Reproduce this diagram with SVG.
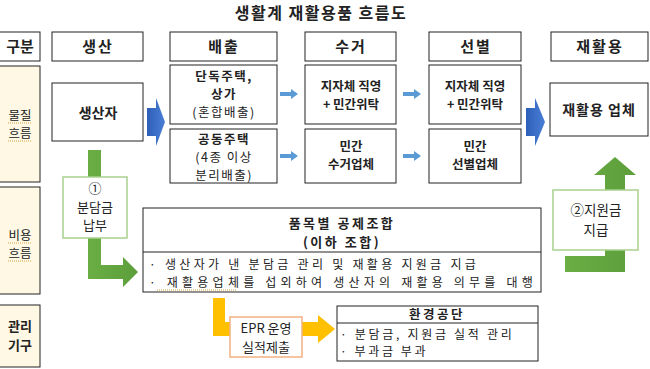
<svg xmlns="http://www.w3.org/2000/svg" width="650" height="369" viewBox="0 0 650 369">
<style>
text{font-family:"Noto Sans CJK KR","Noto Sans",sans-serif;fill:#222;text-anchor:middle}
.h{font-size:15px;font-weight:bold;letter-spacing:2px}
.b{font-size:12.5px;font-weight:bold}
.r{font-size:12.5px}
.l{text-anchor:start;font-size:12px;letter-spacing:3.2px}
.box{fill:#fff;stroke:#222;stroke-width:1}
.cat{fill:#FEF8E4;stroke:#222;stroke-width:1}
.sq{stroke:#D9A441;stroke-width:1;stroke-dasharray:1 1;fill:none}
.lb{fill:#5B9BD5}
</style>
<defs>
<linearGradient id="blue" x1="0" y1="0" x2="1" y2="0"><stop offset="0" stop-color="#2E5FB8"/><stop offset="1" stop-color="#4A7FD6"/></linearGradient>
<linearGradient id="green" x1="0" y1="0" x2="1" y2="0"><stop offset="0" stop-color="#6AAE45"/><stop offset="1" stop-color="#5C9E3A"/></linearGradient>
</defs>
<rect width="650" height="369" fill="#fff"/>
<text x="321" y="19" style="font-size:16px;font-weight:bold;letter-spacing:1.5px">생활계 재활용품 흐름도</text>

<g id="header">
<g id="h-gubun"><rect class="box" x="-1" y="32" width="41" height="29"/><text class="h" x="20" y="52" style="letter-spacing:0">구분</text></g>
<g id="h-prod"><rect class="box" x="52" y="32" width="91" height="29"/><text class="h" x="98" y="52">생산</text></g>
<g id="h-disch"><rect class="box" x="170" y="32" width="107" height="29"/><text class="h" x="224" y="52">배출</text></g>
<g id="h-coll"><rect class="box" x="305" y="32" width="91" height="29"/><text class="h" x="351" y="52">수거</text></g>
<g id="h-sort"><rect class="box" x="429" y="32" width="92" height="29"/><text class="h" x="476" y="52">선별</text></g>
<g id="h-recy"><rect class="box" x="551" y="32" width="97" height="29"/><text class="h" x="600" y="52">재활용</text></g>
</g>

<g id="cat-material"><rect class="cat" x="-1" y="66" width="41" height="116"/><text class="r" x="20" y="120">물질</text><text class="r" x="20" y="138">흐름</text>
<line class="sq" x1="8" y1="123" x2="32" y2="123"/><line class="sq" x1="8" y1="141" x2="32" y2="141"/></g>
<g id="cat-cost"><rect class="cat" x="-1" y="187" width="41" height="107"/><text class="r" x="20" y="240">비용</text><text class="r" x="20" y="258">흐름</text>
<line class="sq" x1="8" y1="243" x2="32" y2="243"/><line class="sq" x1="8" y1="261" x2="32" y2="261"/></g>
<g id="cat-mgmt"><rect class="cat" x="-1" y="305" width="41" height="62"/><text class="b" x="20" y="331" style="font-size:13px">관리</text><text class="b" x="20" y="350" style="font-size:13px">기구</text></g>

<g id="connectors">
<polygon fill="url(#blue)" points="147,108 156,108 156,98 165,122 156,146 156,136 147,136"/>
<polygon fill="url(#blue)" points="526,108 535,108 535,98 545,122 535,146 535,136 526,136"/>
<polygon class="lb" points="280,92 291,92 291,89 298,94 291,99 291,96 280,96"/>
<polygon class="lb" points="280,154 291,154 291,151 298,156 291,161 291,158 280,158"/>
<polygon class="lb" points="403,92 414,92 414,89 421,94 414,99 414,96 403,96"/>
<polygon class="lb" points="403,154 414,154 414,151 421,156 414,161 414,158 403,158"/>
<polygon fill="url(#green)" points="88,150 101,150 101,265 123,265 123,257 138,272 123,287 123,279 88,279"/>
<polygon fill="url(#green)" points="565,256 605,256 605,175 594,175 615,157 636,175 625,175 625,272 565,272"/>
<polygon fill="#FFC000" points="213,298 225,298 225,322 318,322 318,315 335,329 318,343 318,336 213,336"/>
</g>

<g id="producer"><rect class="box" x="52" y="83" width="91" height="58"/><text class="b" x="98" y="118" style="font-size:14px">생산자</text></g>

<g id="disch-single"><rect class="box" x="170" y="65" width="107" height="59"/>
<text class="b" x="224" y="81" style="letter-spacing:1.5px">단독주택,</text><text class="b" x="224" y="99" style="letter-spacing:1.5px">상가</text><text class="r" x="224" y="117" style="letter-spacing:1.5px">(혼합배출)</text></g>
<g id="disch-apt"><rect class="box" x="170" y="129" width="107" height="54"/>
<text class="b" x="224" y="144" style="letter-spacing:1.5px">공동주택</text><text class="r" x="224" y="162" style="letter-spacing:1.5px">(4종 이상</text><text class="r" x="224" y="180" style="letter-spacing:1.5px">분리배출)</text></g>

<g id="coll-gov"><rect class="box" x="305" y="65" width="91" height="59"/><text class="b" x="351" y="91">지자체 직영</text><text class="b" x="351" y="109">+ 민간위탁</text></g>
<g id="coll-priv"><rect class="box" x="305" y="129" width="91" height="54"/><text class="b" x="351" y="151">민간</text><text class="b" x="351" y="169">수거업체</text></g>
<g id="sort-gov"><rect class="box" x="429" y="65" width="92" height="59"/><text class="b" x="475" y="91">지자체 직영</text><text class="b" x="475" y="109">+ 민간위탁</text></g>
<g id="sort-priv"><rect class="box" x="429" y="129" width="92" height="54"/><text class="b" x="475" y="151">민간</text><text class="b" x="475" y="169">선별업체</text></g>

<g id="recycler"><rect class="box" x="550" y="83" width="98" height="53"/><text class="b" x="599" y="115" style="font-size:14px;letter-spacing:1px">재활용 업체</text></g>

<g id="label-fee"><rect x="63" y="177" width="64" height="61" fill="#fff" stroke="#A9D18E" stroke-width="1.5"/>
<text class="r" x="95" y="193" style="font-size:13px">①</text><text class="r" x="95" y="211.5" style="font-size:13px">분담금</text><text class="r" x="95" y="230" style="font-size:13px">납부</text></g>
<g id="label-subsidy"><rect x="553" y="190" width="85" height="60" fill="#fff" stroke="#A9D18E" stroke-width="1.5"/>
<text class="r" x="596" y="215" style="font-size:13.5px">②지원금</text><text class="r" x="596" y="235" style="font-size:13.5px">지급</text></g>

<g id="union"><rect class="box" x="143" y="208" width="398" height="84"/><line x1="143" y1="252" x2="541" y2="252" stroke="#222"/>
<text class="b" x="342" y="228" style="font-size:13px;letter-spacing:2.5px">품목별 공제조합</text><text class="b" x="342" y="247" style="font-size:13px;letter-spacing:2.5px">(이하 조합)</text>
<text class="l" x="149" y="269" textLength="330" lengthAdjust="spacing">· 생산자가 낸 분담금 관리 및 재활용 지원금 지급</text>
<text class="l" x="149" y="287" textLength="387" lengthAdjust="spacing">· 재활용업체를 섭외하여 생산자의 재활용 의무를 대행</text>
<line class="sq" x1="157" y1="290" x2="236" y2="290"/></g>

<g id="label-epr"><rect x="230" y="317" width="72" height="40" fill="#fff" stroke="#F4B183" stroke-width="1.5"/>
<text class="r" x="266" y="333" style="font-size:13px">EPR 운영</text><text class="r" x="266" y="352" style="font-size:13px">실적제출</text></g>

<g id="keco"><rect class="box" x="337" y="306" width="201" height="55"/><line x1="337" y1="323" x2="538" y2="323" stroke="#222"/>
<text class="b" x="437" y="319" style="letter-spacing:2.5px">환경공단</text>
<text class="l" x="340" y="339" textLength="175" lengthAdjust="spacing">· 분담금, 지원금 실적 관리</text>
<text class="l" x="340" y="356" style="letter-spacing:2.6px">· 부과금 부과</text></g>
</svg>
